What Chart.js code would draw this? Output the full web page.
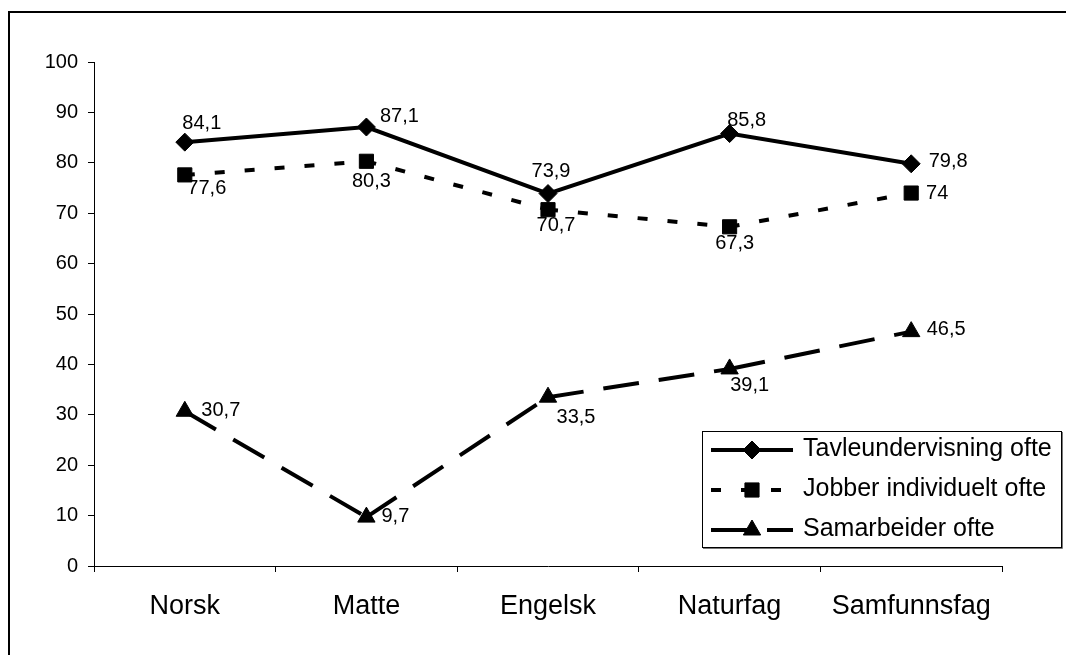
<!DOCTYPE html>
<html lang="no">
<head>
    <meta charset="UTF-8">
    <title>Undervisningsformer per fag</title>
    <script src="https://cdn.jsdelivr.net/npm/chart.js"></script>
    <style>
        html, body {
            margin: 0;
            padding: 0;
            background: #fff;
            overflow: hidden;
        }
        .frame {
            position: absolute;
            left: 8px;
            top: 11px;
            right: 0;
            bottom: 0;
            border-left: 2px solid #000;
            border-top: 2px solid #000;
        }
        .chart-box {
            position: absolute;
            left: 0;
            top: 0;
            width: 1066px;
            height: 655px;
        }
    </style>
</head>
<body>
    <div class="frame"></div>
    <div class="chart-box">
        <canvas id="fagChart" width="1066" height="655"></canvas>
    </div>

<script>
// data
const fag = ['Norsk', 'Matte', 'Engelsk', 'Naturfag', 'Samfunnsfag'];
const tavleundervisning = [84.1, 87.1, 73.9, 85.8, 79.8];
const jobberIndividuelt = [77.6, 80.3, 70.7, 67.3, 74];
const samarbeider = [30.7, 9.7, 33.5, 39.1, 46.5];
const yTicks = [0, 10, 20, 30, 40, 50, 60, 70, 80, 90, 100];

// where each value label sits relative to its point (dx, dy)
const labelNudge = [
    [[17, -19], [33, -11], [3, -22], [17, -13], [37, -2]],
    [[22, 14], [5, 20], [8, 16], [5, 17], [26, 0]],
    [[36, -1], [29, -1], [28, 20], [20, 17], [35, -2]]
];

const FONT = "'Liberation Sans', Arial, sans-serif";
Chart.defaults.font.family = FONT;
Chart.defaults.color = '#000';

const fmt = v => String(v).replace('.', ',');

// restart dash pattern on every segment (like Excel does)
const perSegment = { borderDashOffset: c => c.p0DataIndex * 0.000001 };

// value labels
const valueLabels = {
    id: 'valueLabels',
    afterDatasetsDraw(chart) {
        const ctx = chart.ctx;
        ctx.save();
        ctx.font = '20px ' + FONT;
        ctx.fillStyle = '#000';
        ctx.textAlign = 'center';
        ctx.textBaseline = 'middle';
        chart.data.datasets.forEach((ds, i) => {
            chart.getDatasetMeta(i).data.forEach((pt, j) => {
                const [dx, dy] = labelNudge[i][j];
                ctx.fillText(fmt(ds.data[j]), pt.x + dx, pt.y + dy);
            });
        });
        ctx.restore();
    }
};

// legend box inside the plot, bottom right
const boxLegend = {
    id: 'boxLegend',
    afterDraw(chart) {
        const ctx = chart.ctx;
        const area = chart.chartArea;
        const left = area.left + 608, top = area.bottom - 135;
        const w = 359, h = 116;
        ctx.save();
        ctx.fillStyle = '#fff';
        ctx.fillRect(left, top, w, h);
        ctx.strokeStyle = '#000';
        ctx.lineWidth = 1;
        ctx.strokeRect(left + 0.5, top + 0.5, w, h);
        ctx.strokeStyle = '#777';
        ctx.beginPath();
        ctx.moveTo(left + w + 1.5, top + 1);
        ctx.lineTo(left + w + 1.5, top + h + 1.5);
        ctx.lineTo(left + 1, top + h + 1.5);
        ctx.stroke();

        chart.data.datasets.forEach((ds, i) => {
            const y = top + 19 + i * 40;
            const x0 = left + 9, x1 = left + 91, xm = (x0 + x1) / 2;
            ctx.strokeStyle = '#000';
            ctx.lineWidth = ds.borderWidth;
            ctx.lineCap = 'butt';
            ctx.setLineDash(ds.borderDash || []);
            ctx.beginPath();
            ctx.moveTo(x0, y);
            ctx.lineTo(x1, y);
            ctx.stroke();
            ctx.setLineDash([]);
            ctx.fillStyle = '#000';
            ctx.lineWidth = 1;
            Chart.helpers.drawPoint(ctx, {
                pointStyle: ds.pointStyle,
                radius: ds.pointRadius,
                borderWidth: 1
            }, xm, y);

            ctx.font = '25px ' + FONT;
            ctx.textAlign = 'left';
            ctx.textBaseline = 'middle';
            ctx.fillText(ds.label, left + 101, y - 1);
        });
        ctx.restore();
    }
};

new Chart(document.getElementById('fagChart'), {
    type: 'line',
    data: {
        labels: fag,
        datasets: [{
            label: 'Tavleundervisning ofte',
            data: tavleundervisning,
            borderColor: '#000',
            backgroundColor: '#000',
            borderWidth: 4,
            pointStyle: 'rectRot',
            pointRadius: 9,
            pointBorderWidth: 1,
            tension: 0
        }, {
            label: 'Jobber individuelt ofte',
            data: jobberIndividuelt,
            borderColor: '#000',
            backgroundColor: '#000',
            borderWidth: 4,
            borderDash: [10, 20],
            segment: perSegment,
            pointStyle: 'rect',
            pointRadius: 10,
            pointBorderWidth: 1,
            tension: 0
        }, {
            label: 'Samarbeider ofte',
            data: samarbeider,
            borderColor: '#000',
            backgroundColor: '#000',
            borderWidth: 4,
            borderDash: [36, 20],
            segment: perSegment,
            pointStyle: 'triangle',
            pointRadius: 10,
            pointBorderWidth: 1,
            tension: 0
        }]
    },
    options: {
        responsive: false,
        animation: false,
        events: [],
        layout: {
            padding: { left: 0, top: 62, right: 64, bottom: 0 }
        },
        plugins: {
            legend: { display: false },
            tooltip: { enabled: false }
        },
        scales: {
            x: {
                offset: true,
                grid: {
                    offset: true,
                    drawOnChartArea: false,
                    tickLength: 6,
                    color: '#000'
                },
                border: { color: '#000', width: 1 },
                ticks: {
                    font: { size: 27 },
                    padding: 18,
                    maxRotation: 0
                },
                afterFit: s => { s.height = 89; }
            },
            y: {
                min: 0,
                max: 100,
                afterBuildTicks: s => { s.ticks = yTicks.map(v => ({ value: v })); },
                grid: {
                    drawOnChartArea: false,
                    tickLength: 6,
                    color: '#000'
                },
                border: { color: '#000', width: 1 },
                ticks: {
                    font: { size: 20 },
                    padding: 10
                },
                afterFit: s => { s.width = 94; }
            }
        }
    },
    plugins: [valueLabels, boxLegend]
});
</script>
</body>
</html>
